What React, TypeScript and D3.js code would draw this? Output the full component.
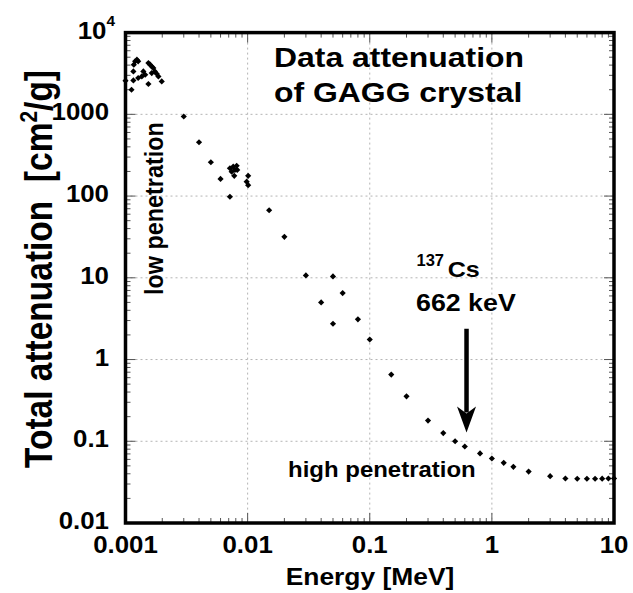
import React from "react";
import * as d3 from "d3";

// Photon energy [MeV] and total mass attenuation [cm^2/g] for GAGG
const energy = [
  0.001, 0.00112, 0.00116, 0.00116, 0.00117, 0.0012, 0.00124, 0.00127, 0.00127,
  0.00136, 0.0014, 0.00145, 0.00154, 0.00154, 0.00159, 0.00164, 0.00164, 0.00169,
  0.00174, 0.0018, 0.00186, 0.00198,
  0.003, 0.004, 0.005, 0.006,
  0.00716, 0.00762, 0.00813, 0.0074, 0.00787, 0.00777, 0.00822, 0.0101, 0.00982, 0.0101, 0.00716,
  0.015, 0.02, 0.03, 0.04, 0.05, 0.05, 0.06, 0.08, 0.1, 0.15, 0.2, 0.3, 0.4, 0.5, 0.6, 0.8,
  1.0, 1.25, 1.5, 2, 3, 4, 5, 6, 7, 8, 9, 10,
];
const attenuation = [
  2580, 2000, 2600, 3350, 4050, 4450, 4660, 4450, 2780,
  2910, 3350, 3050, 4250, 2350, 4050, 3860, 3200, 3690,
  3350, 3140, 2910, 2530,
  940, 456, 259, 162,
  219, 229, 235, 199, 209, 177, 209, 177, 150, 136, 98,
  67, 31.7, 10.7, 5.0, 10.4, 2.74, 6.5, 3.1, 1.76, 0.655, 0.355, 0.179, 0.126, 0.1, 0.0863, 0.071,
  0.0615, 0.0545, 0.0487, 0.0426, 0.0374, 0.035, 0.0348, 0.0348, 0.0348, 0.0349, 0.035, 0.0351,
];

const xTickValues = [0.001, 0.01, 0.1, 1, 10];
const xTickLabels = ["0.001", "0.01", "0.1", "1", "10"];
const yTickValues = [0.01, 0.1, 1, 10, 100, 1000];
const yTickLabels = ["0.01", "0.1", "1", "10", "100", "1000"];

// 137Cs line marker: arrow drawn at the photopeak energy
const csEnergy = 0.62;
const arrowFrom = 2.38;
const arrowTo = 0.128;

const W = 633;
const H = 593;
const FONT = "Liberation Sans, Arial, Helvetica, sans-serif";

const x = d3.scaleLog().domain([0.001, 10]).range([125.5, 614]);
const y = d3.scaleLog().domain([0.01, 10000]).range([523, 32.6]);

const marker = d3.symbol(d3.symbolSquare, 19)() as string;

function Label(props: {
  x: number;
  y: number;
  size: number;
  sx?: number;
  anchor?: "start" | "middle" | "end";
  rotate?: number;
  children: React.ReactNode;
}) {
  const { sx = 1.12, anchor = "start", rotate = 0 } = props;
  return (
    <text
      transform={`translate(${props.x},${props.y}) scale(${sx},1)${rotate ? ` rotate(${rotate})` : ""}`}
      fontSize={props.size}
      fontWeight="bold"
      fontFamily={FONT}
      textAnchor={anchor}
      fill="#000"
    >
      {props.children}
    </text>
  );
}

export default function App() {
  const [x0, x1] = x.range();
  const [y0, y1] = y.range();

  const xMinor: number[] = [];
  for (let d = 0.001; d < 10; d *= 10) for (let k = 2; k <= 9; k++) xMinor.push(d * k);
  const yMinor: number[] = [];
  for (let d = 0.01; d < 10000; d *= 10) for (let k = 2; k <= 9; k++) yMinor.push(d * k);

  const xMajor = xTickValues;
  const yMajor = [...yTickValues, 10000];

  const ax = x(csEnergy);
  const aTop = y(arrowFrom);
  const aTip = y(arrowTo);

  return (
    <svg
      width={W}
      height={H}
      style={{ position: "absolute", left: 0, top: 0, background: "#fff" }}
    >
      <rect width={W} height={H} fill="#fff" />

      {/* decade grid */}
      <g stroke="#b4b4b4" strokeWidth={1} strokeDasharray="2,3">
        {xMajor.slice(1, -1).map((v) => (
          <line key={`gx${v}`} x1={x(v)} x2={x(v)} y1={y1} y2={y0} />
        ))}
        {yMajor.slice(1, -1).map((v) => (
          <line key={`gy${v}`} x1={x0} x2={x1} y1={y(v)} y2={y(v)} />
        ))}
      </g>

      {/* inward ticks on all four sides */}
      <g stroke="#555" strokeWidth={1}>
        {xMinor.map((v) => (
          <g key={`tx${v}`}>
            <line x1={x(v)} x2={x(v)} y1={y0} y2={y0 - 5} />
            <line x1={x(v)} x2={x(v)} y1={y1} y2={y1 + 5} />
          </g>
        ))}
        {xMajor.map((v) => (
          <g key={`TX${v}`}>
            <line x1={x(v)} x2={x(v)} y1={y0} y2={y0 - 10} />
            <line x1={x(v)} x2={x(v)} y1={y1} y2={y1 + 10} />
          </g>
        ))}
        {yMinor.map((v) => (
          <g key={`ty${v}`}>
            <line x1={x0} x2={x0 + 5} y1={y(v)} y2={y(v)} />
            <line x1={x1} x2={x1 - 5} y1={y(v)} y2={y(v)} />
          </g>
        ))}
        {yMajor.map((v) => (
          <g key={`TY${v}`}>
            <line x1={x0} x2={x0 + 10} y1={y(v)} y2={y(v)} />
            <line x1={x1} x2={x1 - 10} y1={y(v)} y2={y(v)} />
          </g>
        ))}
      </g>

      {/* data points */}
      <g fill="#000">
        {energy.map((e, i) => (
          <path
            key={i}
            d={marker}
            transform={`translate(${x(e)},${y(attenuation[i])}) rotate(45)`}
          />
        ))}
      </g>

      {/* frame */}
      <rect
        x={x0}
        y={y1}
        width={x1 - x0}
        height={y0 - y1}
        fill="none"
        stroke="#000"
        strokeWidth={3.5}
      />

      {/* tick labels */}
      {xTickValues.map((v, i) => (
        <Label key={`lx${v}`} x={x(v)} y={553} size={23.5} sx={1.1} anchor="middle">
          {xTickLabels[i]}
        </Label>
      ))}
      {yTickValues.map((v, i) => (
        <Label key={`ly${v}`} x={109} y={y(v) + 6} size={23.5} sx={1.1} anchor="end">
          {yTickLabels[i]}
        </Label>
      ))}
      <Label x={106.5} y={y(10000) + 6} size={23.5} sx={1.1} anchor="end">
        10
      </Label>
      <Label x={106.5} y={y(10000) - 7} size={14} sx={1.1} anchor="start">
        4
      </Label>

      {/* axis titles */}
      <Label x={370} y={585} size={24} sx={1.1} anchor="middle">
        Energy [MeV]
      </Label>
      <text
        transform={`translate(52,468) scale(1.14,1) rotate(-90)`}
        fontSize={33.5}
        fontWeight="bold"
        fontFamily={FONT}
        fill="#000"
      >
        Total attenuation{"\u00a0\u00a0"}[cm
        <tspan fontSize={21} dy={-13}>2</tspan>
        <tspan dy={13}>/g]</tspan>
      </text>

      {/* chart title */}
      <Label x={274} y={66.7} size={28} sx={1.14}>
        Data attenuation
      </Label>
      <Label x={274} y={101.7} size={28} sx={1.14}>
        of GAGG crystal
      </Label>

      {/* annotations */}
      <Label x={163} y={295} size={23.4} sx={1.14} rotate={-90}>
        low penetration
      </Label>
      <Label x={288} y={477} size={22} sx={1.09}>
        high penetration
      </Label>
      <Label x={416.5} y={266} size={16.5} sx={1.0}>
        137
      </Label>
      <Label x={447.7} y={276.7} size={22} sx={1.14}>
        Cs
      </Label>
      <Label x={416} y={310.5} size={23.5} sx={1.14}>
        662 keV
      </Label>

      <line x1={ax} x2={ax} y1={aTop} y2={aTip - 20} stroke="#000" strokeWidth={4.5} />
      <path
        d={`M${ax},${aTip} L${ax - 9.5},${aTip - 26} L${ax},${aTip - 19} L${ax + 9.5},${aTip - 26} Z`}
        fill="#000"
      />
    </svg>
  );
}
